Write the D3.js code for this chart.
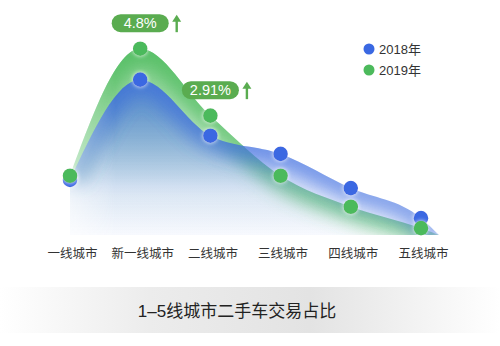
<!DOCTYPE html>
<html><head><meta charset="utf-8">
<script src="https://cdn.jsdelivr.net/npm/d3@7"></script>
<style>body{margin:0;background:#fff}svg{display:block}</style>
</head><body><svg id="c" width="500" height="346"></svg>
<script>
const categories = ["一线城市","新一线城市","二线城市","三线城市","四线城市","五线城市"];
const seriesNames = ["2018年","2019年"];
const values2018 = [12.1, 34.1, 21.8, 17.8, 10.3, 3.7];
const values2019 = [13.0, 40.9, 26.2, 13.0, 6.2, 1.5];
const growthLabels = ["4.8%", "2.91%"];
const growthAt = ["新一线城市", "二线城市"];
const chartTitle = "1–5线城市二手车交易占比";

const FONT = "'Liberation Sans','Noto Sans CJK SC',sans-serif";
const BLUE = "#3a68e2", GREEN = "#4cba5c", PILL = "#5aac50";

const svg = d3.select("#c");
const defs = svg.append("defs");

const x = d3.scalePoint().domain(categories).range([70, 421]);
const y = d3.scaleLinear().domain([0, 45]).range([235, 30]);

function vGrad(id, color, stops) {
  const g = defs.append("linearGradient").attr("id", id)
    .attr("gradientUnits", "userSpaceOnUse").attr("x1", 0).attr("x2", 0).attr("y1", 40).attr("y2", 235);
  stops.forEach(s => g.append("stop").attr("offset", s[0]).attr("stop-color", color).attr("stop-opacity", s[1]));
}
vGrad("gGreen", GREEN, [[0, 0.85], [0.4, 0.42], [0.75, 0.06], [1, 0]]);
vGrad("gBlue", "#3d6ce0", [[0, 0.9], [0.35, 0.62], [0.8, 0.14], [1, 0.04]]);

defs.append("filter").attr("id", "blur").attr("x", "-20%").attr("y", "-50%").attr("width", "140%").attr("height", "200%")
  .append("feGaussianBlur").attr("stdDeviation", 9);
const halo = defs.append("filter").attr("id", "halo").attr("x", "-100%").attr("y", "-100%").attr("width", "300%").attr("height", "300%");
halo.append("feDropShadow").attr("dx", 0).attr("dy", 0).attr("stdDeviation", 2).attr("flood-color", "#fff").attr("flood-opacity", 0.9);

// horizontal fade mask for the left edge of the areas
const mg = defs.append("linearGradient").attr("id", "maskGrad").attr("gradientUnits", "userSpaceOnUse")
  .attr("x1", x(categories[0])).attr("x2", x(categories[0]) + 45).attr("y1", 0).attr("y2", 0);
mg.append("stop").attr("offset", 0).attr("stop-color", "#fff").attr("stop-opacity", 0.45);
mg.append("stop").attr("offset", 1).attr("stop-color", "#fff").attr("stop-opacity", 1);
defs.append("mask").attr("id", "leftFade").attr("maskUnits", "userSpaceOnUse")
  .attr("x", 0).attr("y", 0).attr("width", 500).attr("height", 346)
  .append("rect").attr("width", 500).attr("height", 346).attr("fill", "url(#maskGrad)");

const lx = defs.append("linearGradient").attr("id", "axisGrad");
[[0, 0], [0.1, 1], [0.85, 1], [1, 0]].forEach(s => lx.append("stop").attr("offset", s[0]).attr("stop-color", "#bdbdbd").attr("stop-opacity", s[1]));
const tb = defs.append("linearGradient").attr("id", "titleGrad");
[[0, "#ffffff"], [0.3, "#ececec"], [0.62, "#e3e3e3"], [1, "#ffffff"]].forEach(s => tb.append("stop").attr("offset", s[0]).attr("stop-color", s[1]));

function pts(vals) {
  const p = categories.map((c, i) => [x(c), y(vals[i])]);
  const last = p[p.length - 1];
  p.push([last[0] + 18, y(0)]);
  return p;
}
const area = d3.area().x(d => d[0]).y0(y(0)).y1(d => d[1]).curve(d3.curveMonotoneX);
const line = d3.line().x(d => d[0]).y(d => d[1]).curve(d3.curveMonotoneX);

const areaLayer = svg.append("g").attr("mask", "url(#leftFade)");
function drawArea(vals, color, grad, id, glowOp) {
  const p = pts(vals);
  defs.append("clipPath").attr("id", id).append("path").attr("d", area(p));
  areaLayer.append("path").attr("d", area(p)).attr("fill", `url(#${grad})`);
  areaLayer.append("g").attr("clip-path", `url(#${id})`)
    .append("path").attr("d", line(p)).attr("fill", "none").attr("stroke", color)
    .attr("stroke-width", 26).attr("stroke-opacity", glowOp).attr("filter", "url(#blur)");
}
drawArea(values2019, GREEN, "gGreen", "cG", 0.7);
drawArea(values2018, "#3d6ce0", "gBlue", "cB", 0.6);

svg.append("line").attr("x1", 20).attr("x2", 485).attr("y1", y(0) + 0.5).attr("y2", y(0) + 0.5)
  .attr("stroke", "url(#axisGrad)").attr("stroke-width", 1.2);

const axis = d3.axisBottom(x).tickSize(0).tickPadding(0);
const ag = svg.append("g").attr("transform", `translate(2,${y(0) + 17})`).call(axis);
ag.select(".domain").remove();
ag.selectAll("text").attr("font-family", FONT).attr("font-size", 12.5).attr("fill", "#333").attr("dy", "0.5em");

function dots(vals, color) {
  svg.append("g").selectAll("circle").data(vals).join("circle")
    .attr("cx", (d, i) => x(categories[i])).attr("cy", d => y(d)).attr("r", 7.3)
    .attr("fill", color).attr("filter", "url(#halo)");
}
dots(values2018, BLUE);
dots(values2019, GREEN);

growthLabels.forEach((lab, i) => {
  const c = growthAt[i];
  const idx = categories.indexOf(c);
  const cx = x(c), cy = y(values2019[idx]) - 25.5;
  const w = 57, h = 18;
  svg.append("rect").attr("x", cx - w / 2).attr("y", cy - h / 2).attr("width", w).attr("height", h)
    .attr("rx", 9).attr("fill", PILL);
  svg.append("text").attr("x", cx).attr("y", cy).attr("dy", "0.36em").attr("text-anchor", "middle")
    .attr("font-family", FONT).attr("font-size", 14.5).attr("fill", "#fff").text(lab);
  const ax = cx + w / 2 + 8;
  svg.append("line").attr("x1", ax).attr("x2", ax).attr("y1", cy - 3).attr("y2", cy + 9)
    .attr("stroke", PILL).attr("stroke-width", 2.4);
  svg.append("path").attr("d", `M${ax - 4.5},${cy - 1.5} L${ax},${cy - 8.5} L${ax + 4.5},${cy - 1.5} Z`).attr("fill", PILL);
});

const leg = svg.append("g").attr("transform", "translate(369,49)");
[[seriesNames[0], BLUE], [seriesNames[1], GREEN]].forEach((d, i) => {
  const g = leg.append("g").attr("transform", `translate(0,${i * 21})`);
  g.append("circle").attr("r", 5.5).attr("fill", d[1]);
  g.append("text").attr("x", 10).attr("dy", "0.36em").attr("font-family", FONT).attr("font-size", 13)
    .attr("fill", "#333").text(d[0]);
});

svg.append("rect").attr("x", 0).attr("y", 287).attr("width", 500).attr("height", 46).attr("fill", "url(#titleGrad)");
svg.append("text").attr("x", 237).attr("y", 311).attr("dy", "0.36em").attr("text-anchor", "middle")
  .attr("font-family", FONT).attr("font-size", 17).attr("fill", "#222").text(chartTitle);
</script>
</body></html>
